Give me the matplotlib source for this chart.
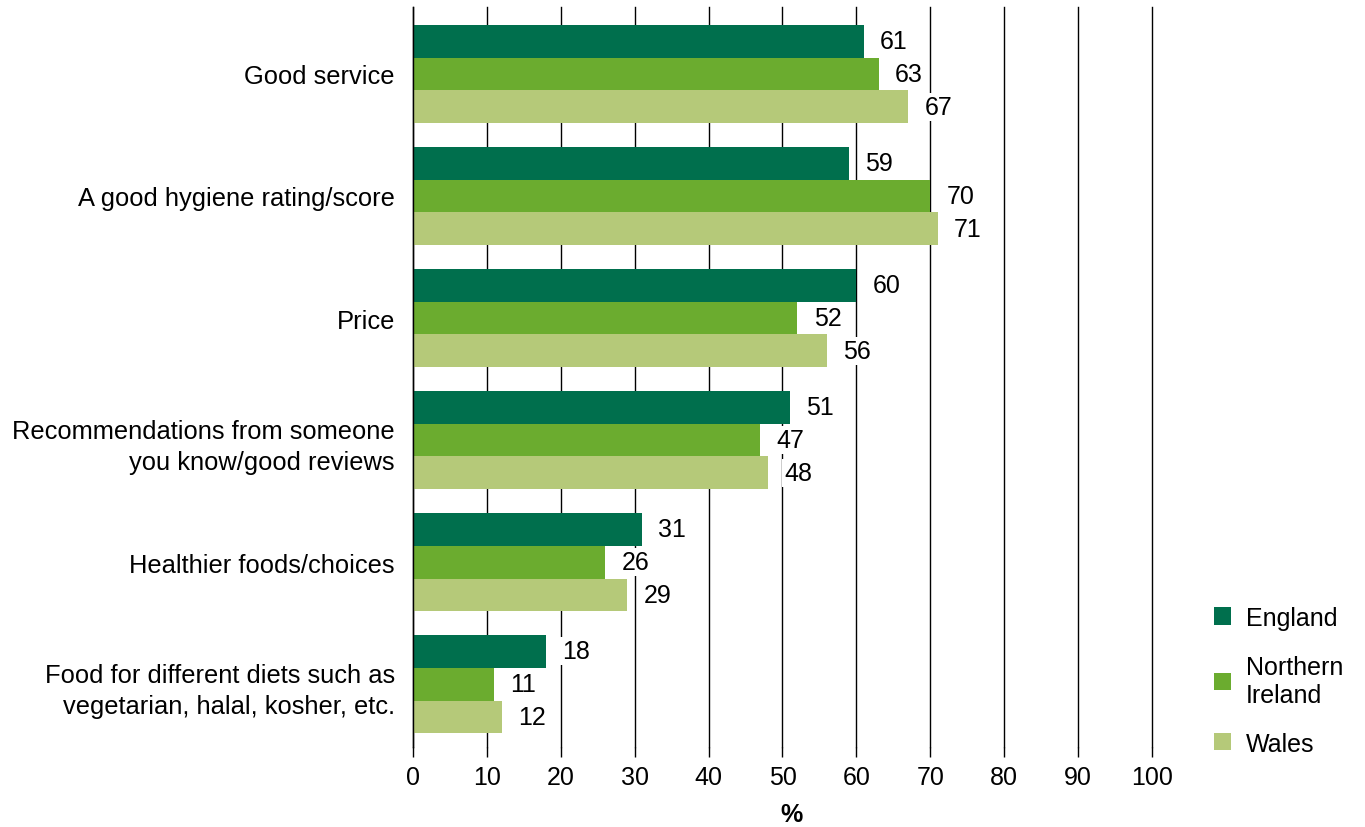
import matplotlib
matplotlib.use("Agg")
import matplotlib.pyplot as plt
import numpy as np

plt.rcParams['font.family'] = ['Liberation Sans', 'DejaVu Sans']

categories = ["Good service", "A good hygiene rating/score", "Price",
              "Recommendations from someone\nyou know/good reviews",
              "Healthier foods/choices",
              "Food for different diets such as\nvegetarian, halal, kosher, etc."]
series_names = ["England", "Northern\nIreland", "Wales"]
england = [61, 59, 60, 51, 31, 18]
northern_ireland = [63, 70, 52, 47, 26, 11]
wales = [67, 71, 56, 48, 29, 12]
colors = ["#006F4D", "#6BAC2F", "#B5C979"]
xticks = [0, 10, 20, 30, 40, 50, 60, 70, 80, 90, 100]

FS = 18
fig = plt.figure(figsize=(13.65, 8.28), dpi=100)
ax = fig.add_axes([413/1365, 1-748/828, (1152-413)/1365, 740/828])

n = len(categories)
y = np.arange(n)
h = 0.27
data = [england, northern_ireland, wales]
for i, (vals, c, name) in enumerate(zip(data, colors, series_names)):
    pos = y + (i - 1) * h
    ax.barh(pos, vals, height=h, color=c, label=name, zorder=2)
    for p, v in zip(pos, vals):
        ax.text(v + 2.2, p, str(v), ha='left', va='center', fontsize=FS,
                color='black', zorder=4,
                bbox=dict(facecolor='white', edgecolor='none', pad=1.5))

ax.set_ylim(5.516, -0.549)
ax.set_xlim(0, 100)
ax.set_yticks(y)
ax.set_yticklabels(categories, fontsize=18.4, linespacing=1.4)
ax.tick_params(axis='y', length=0, pad=13)
ax.set_xticks(xticks)
ax.set_xticklabels([str(t) for t in xticks], fontsize=FS)
ax.tick_params(axis='x', length=7, width=1, color='black', pad=6)
ax.xaxis.grid(True, color='black', linewidth=1, zorder=1)
ax.set_axisbelow(True)
for gl in ax.get_xgridlines():
    gl.set_clip_on(False)
for s in ['top', 'right', 'bottom']:
    ax.spines[s].set_visible(False)
ax.spines['left'].set_color('black')
ax.spines['left'].set_linewidth(1)
ax.spines['left'].set_zorder(3)
ax.set_xlabel('%', fontsize=FS, fontweight='bold')
ax.xaxis.set_label_coords(0.5125, -0.075)

leg = ax.legend(loc='lower left', bbox_to_anchor=(1.053, -0.042), frameon=False,
                fontsize=FS, handlelength=0.68, handleheight=0.68,
                handletextpad=0.62, labelspacing=1.0)

fig.savefig("out.png", dpi=100)
